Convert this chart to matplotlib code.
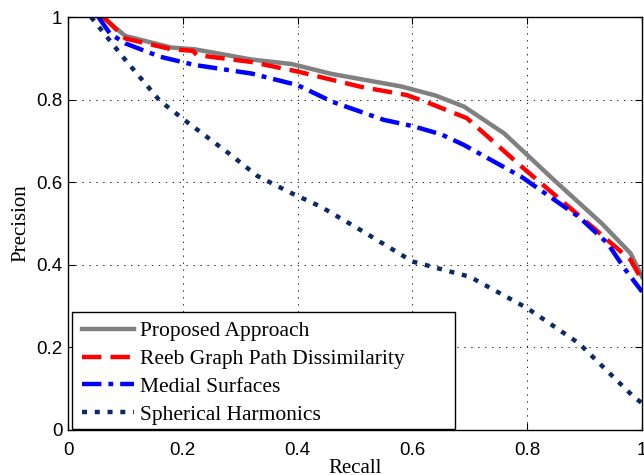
import numpy as np
import matplotlib
matplotlib.use("Agg")
import matplotlib.pyplot as plt
from matplotlib.patches import Rectangle

# precision / recall curves
recall_prop = [0.06, 0.10, 0.18, 0.22, 0.32, 0.39, 0.46, 0.54, 0.58, 0.64, 0.69, 0.76, 0.85, 0.93, 0.98, 1.0]
prec_prop = [1.0, 0.954, 0.926, 0.922, 0.897, 0.886, 0.862, 0.842, 0.832, 0.810, 0.783, 0.718, 0.601, 0.500, 0.428, 0.371]

recall_reeb = [0.062, 0.10, 0.18, 0.218, 0.224, 0.32, 0.40, 0.51, 0.59, 0.63, 0.695, 0.79, 0.92, 0.98, 1.0]
prec_reeb = [1.0, 0.948, 0.922, 0.918, 0.908, 0.891, 0.868, 0.831, 0.811, 0.791, 0.755, 0.638, 0.484, 0.412, 0.363]

recall_med = [0.053, 0.073, 0.10, 0.16, 0.22, 0.32, 0.40, 0.46, 0.55, 0.60, 0.65, 0.69, 0.79, 0.89, 0.94, 0.97, 1.0]
prec_med = [1.0, 0.96, 0.936, 0.904, 0.884, 0.863, 0.835, 0.795, 0.751, 0.736, 0.716, 0.690, 0.613, 0.516, 0.452, 0.39, 0.335]

recall_sph = [0.04, 0.10, 0.16, 0.21, 0.28, 0.33, 0.39, 0.44, 0.51, 0.60, 0.70, 0.80, 0.89, 0.985, 1.0]
prec_sph = [1.0, 0.896, 0.797, 0.743, 0.670, 0.615, 0.573, 0.541, 0.484, 0.408, 0.371, 0.295, 0.210, 0.081, 0.065]

labels = ["Proposed Approach", "Reeb Graph Path Dissimilarity",
          "Medial Surfaces", "Spherical Harmonics"]
ticks = [0, 0.2, 0.4, 0.6, 0.8, 1]
tick_labels = ["0", "0.2", "0.4", "0.6", "0.8", "1"]

plt.rcParams["lines.scale_dashes"] = False
W, H = 644, 475
fig = plt.figure(figsize=(W / 100, H / 100), dpi=100)
ax = fig.add_axes([68 / W, 1 - 430 / H, (642 - 68) / W, (430 - 17) / H])

lw = 3.2
ax.plot(recall_prop, prec_prop, color="#808080", lw=lw, label=labels[0])
l2, = ax.plot(recall_reeb, prec_reeb, color="red", lw=lw, label=labels[1])
l2.set_dashes((14, 6.5))
l3, = ax.plot(recall_med, prec_med, color="blue", lw=lw, label=labels[2])
l3.set_dashes((14, 5, 3.5, 5))
l4, = ax.plot(recall_sph, prec_sph, color="#0b2a66", lw=lw, label=labels[3])
l4.set_dashes((3.6, 5.6))
for l in ax.lines:
    l.set_dash_capstyle("butt")

ax.set_xlim(0, 1)
ax.set_ylim(0, 1)
ax.set_xticks(ticks)
ax.set_yticks(ticks)
ax.set_xticklabels(tick_labels, family="Liberation Sans", fontsize=13.5)
ax.set_yticklabels(tick_labels, family="Liberation Sans", fontsize=13.5)
ax.tick_params(direction="in", top=True, right=True, length=5, width=0.8)
ax.tick_params(axis="x", pad=8.5)
ax.tick_params(axis="y", pad=4)
ax.grid(True, color="black", linestyle=(0, (1, 4)), linewidth=0.6)
for s in ax.spines.values():
    s.set_linewidth(1.0)

ax.set_xlabel("Recall", family="Liberation Serif", fontsize=15, labelpad=0)
ax.set_ylabel("Precision", family="Liberation Serif", fontsize=15, labelpad=4)

# MATLAB-style legend box (wider than its content)
box = Rectangle((0.0064, 0.002), 0.668, 0.284, transform=ax.transAxes,
                facecolor="white", edgecolor="black", linewidth=1.0, zorder=4.5)
ax.add_patch(box)
leg = ax.legend(loc="upper left", bbox_to_anchor=(0.0239, 0.2635),
                prop={"family": "Liberation Serif", "size": 15.5},
                handlelength=2.43, handletextpad=0.28, labelspacing=0.36,
                borderpad=0, borderaxespad=0, frameon=False)
leg.set_zorder(5)

fig.savefig("out.png", dpi=100)
